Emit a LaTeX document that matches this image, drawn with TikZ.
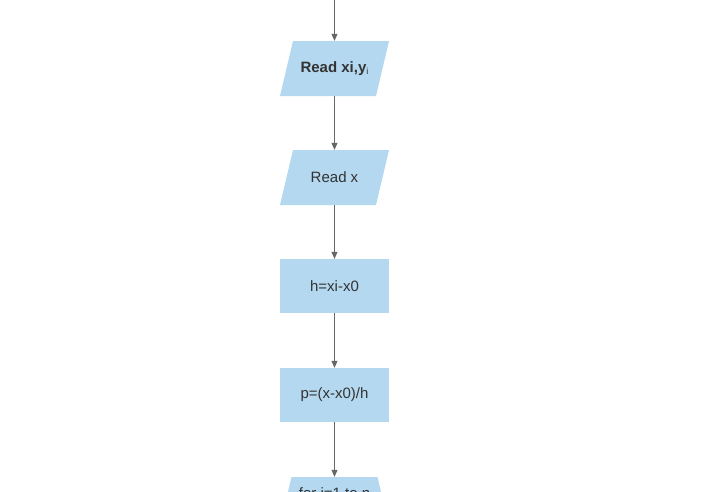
\documentclass[tikz,border=0pt]{standalone}
\usepackage{fontspec}
\setmainfont{Liberation Sans}
\usetikzlibrary{arrows.meta}
\definecolor{boxfill}{RGB}{180,216,240}
\definecolor{txt}{RGB}{51,51,51}
\definecolor{linec}{RGB}{102,102,102}
\tikzset{
  base/.style={draw=none, text=txt, font=\fontsize{15pt}{18pt}\selectfont, inner sep=0pt, rectangle},
  iobox/.style={base, minimum width=109pt, minimum height=55pt,
    path picture={\fill[boxfill] ([xshift=13pt]path picture bounding box.north west) -- (path picture bounding box.north east) -- ([xshift=-13pt]path picture bounding box.south east) -- (path picture bounding box.south west) -- cycle;}},
  procbox/.style={base, fill=boxfill, minimum width=109pt, minimum height=54pt},
  loopbox/.style={base, minimum width=112pt, minimum height=55pt,
    path picture={\fill[boxfill] ([xshift=13pt]path picture bounding box.north west) -- ([xshift=-13pt]path picture bounding box.north east) -- (path picture bounding box.south east) -- (path picture bounding box.south west) -- cycle;}},
  conn/.style={draw=linec, line width=0.8pt, -{Triangle[length=7pt,width=6pt]}}
}
\begin{document}
\begin{tikzpicture}[x=1pt,y=-1pt]
\useasboundingbox (0,0) rectangle (722,491);
\clip (0,0) rectangle (722,491);
\fill[white] (0,0) rectangle (722,491);
\coordinate (start) at (334.5,0);
\node[iobox] (read1) at (334.5,68.5) {\textbf{Read xi,y}\raisebox{-2pt}{\fontsize{9pt}{10pt}\selectfont i}};
\node[iobox] (read2) at (334.5,177.5) {Read x};
\node[procbox] (h) at (334.5,286) {h=xi-x0};
\node[procbox] (p) at (334.5,395) {p=(x-x0)/h};
\node[loopbox] (loop) at (334.5,504.5) {\raisebox{23pt}{for i=1 to n}};
\draw[conn] (start) -- (read1.north);
\draw[conn] (read1.south) -- (read2.north);
\draw[conn] (read2.south) -- (h.north);
\draw[conn] (h.south) -- (p.north);
\draw[conn] (p.south) -- (loop.north);
\end{tikzpicture}
\end{document}
